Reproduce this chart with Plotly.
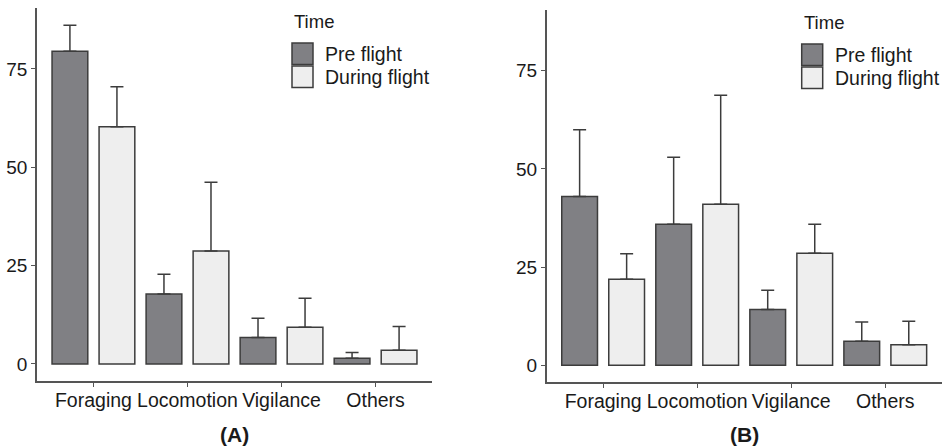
import plotly.graph_objects as go

categories = ["Foraging", "Locomotion", "Vigilance", "Others"]
groups = ["Pre flight", "During flight"]

# Panel A
a_pre = [79.5, 17.8, 6.7, 1.45]
a_pre_err = [6.6, 5.0, 4.9, 1.45]
a_during = [60.3, 28.7, 9.3, 3.5]
a_during_err = [10.2, 17.5, 7.4, 6.0]

# Panel B
b_pre = [43.0, 35.9, 14.2, 6.1]
b_pre_err = [17.0, 17.1, 4.9, 4.9]
b_during = [21.9, 41.0, 28.5, 5.2]
b_during_err = [6.5, 27.8, 7.4, 6.0]

panel_titles = ["(A)", "(B)"]
y_ticks = [0, 25, 50, 75]

W, H = 944, 448
PRE_COL = "#808084"
DUR_COL = "#eeeeee"
EDGE = "#3c3c3c"
AXIS = "#555555"
FONT = "Liberation Sans, Arial, sans-serif"

fig = go.Figure()

panels = [
    dict(pre=a_pre, pre_err=a_pre_err, dur=a_during, dur_err=a_during_err,
         xa="x", ya="y", px0=37, px1=432, py0=8, py1=381),
    dict(pre=b_pre, pre_err=b_pre_err, dur=b_during, dur_err=b_during_err,
         xa="x2", ya="y2", px0=546.7, px1=941.7, py0=10, py1=382.3),
]

for p in panels:
    for vals, errs, col, off in [(p["pre"], p["pre_err"], PRE_COL, -0.44),
                                 (p["dur"], p["dur_err"], DUR_COL, 0.06)]:
        fig.add_trace(go.Bar(
            x=categories, y=vals, xaxis=p["xa"], yaxis=p["ya"],
            width=0.38, offset=off,
            marker=dict(color=col, line=dict(color=EDGE, width=1.5)),
            error_y=dict(type="data", array=errs, arrayminus=[0] * len(errs),
                         symmetric=False, color=EDGE, thickness=1.5, width=6.5),
            showlegend=False,
        ))

layout = dict(
    width=W, height=H,
    margin=dict(l=0, r=0, t=0, b=0, autoexpand=False),
    paper_bgcolor="white", plot_bgcolor="white",
    font=dict(family=FONT, size=19.5, color="#1a1a1a"),
    barmode="overlay",
    shapes=[], annotations=[],
)

for i, p in enumerate(panels):
    sfx = "" if i == 0 else "2"
    layout["xaxis" + sfx] = dict(
        domain=[p["px0"] / W, p["px1"] / W], anchor="y" + sfx,
        type="category", range=[-0.6, 3.6], automargin=False,
        showline=True, linecolor=AXIS, linewidth=1.5,
        ticks="outside", ticklen=4, tickwidth=1.2, tickcolor=AXIS,
        ticklabelstandoff=-3,
        showgrid=False, zeroline=False, fixedrange=True,
        tickfont=dict(size=19.5, color="#1a1a1a"),
    )
    layout["yaxis" + sfx] = dict(
        domain=[1 - p["py1"] / H, 1 - p["py0"] / H], anchor="x" + sfx,
        range=[-4.35, 90.5], tickvals=y_ticks, automargin=False,
        showline=True, linecolor=AXIS, linewidth=1.5,
        ticks="outside", ticklen=4, tickwidth=1.2, tickcolor=AXIS,
        showgrid=False, zeroline=False, fixedrange=True,
        tickfont=dict(size=19, color="#1a1a1a"),
    )
    # panel title
    layout["annotations"].append(dict(
        text="<b>" + panel_titles[i] + "</b>", xref="paper", yref="paper",
        x=(p["px0"] + p["px1"]) / 2 / W, y=1 - 434 / H,
        xanchor="center", yanchor="middle", showarrow=False,
        font=dict(size=21, color="#1a1a1a"),
    ))
    # legend (drawn inside panel, top right)
    lx = p["px0"] + 255
    dy = 0 if i == 0 else 1
    layout["annotations"].append(dict(
        text="Time", xref="paper", yref="paper",
        x=(lx) / W, y=1 - (21 + dy) / H, xanchor="left", yanchor="middle",
        showarrow=False, font=dict(size=18.5, color="#1a1a1a"),
    ))
    for j, (g, col) in enumerate(zip(groups, [PRE_COL, DUR_COL])):
        y0 = 43 + dy + j * 23
        layout["shapes"].append(dict(
            type="rect", xref="paper", yref="paper",
            x0=lx / W, x1=(lx + 21) / W, y0=1 - y0 / H, y1=1 - (y0 + 21.5) / H,
            fillcolor=col, line=dict(color=EDGE, width=1.5),
        ))
        layout["annotations"].append(dict(
            text=g, xref="paper", yref="paper",
            x=(lx + 31) / W, y=1 - (y0 + 11) / H, xanchor="left", yanchor="middle",
            showarrow=False, font=dict(size=19.5, color="#1a1a1a"),
        ))

fig.update_layout(**layout)
fig.write_html(
    "out.html",
    config={"displayModeBar": False},
    post_script="document.body.style.margin='0px';document.body.style.overflow='hidden';",
)
